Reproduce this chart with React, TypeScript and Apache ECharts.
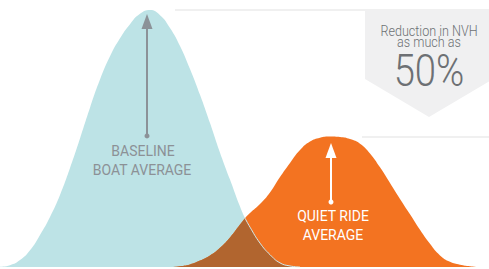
import { useEffect, useRef } from "react";
import * as echarts from "echarts";

// x positions along the noise axis (chart units = pixels across the plot)
const xs = [0, 10, 20, 30, 40, 50, 60, 70, 80, 90, 100, 110, 120, 130, 140, 150, 160, 170, 180, 190, 200, 210, 220, 230, 240, 245, 250, 260, 270, 280, 290, 300, 310, 320, 330, 340, 350, 360, 370, 380, 390, 400, 410, 420, 430, 440, 450, 460, 470, 480, 489];

// Baseline boat distribution (relative height, peak = 100)
const baselineBoat = [0.1, 0.7, 2.7, 6.5, 12.5, 19.5, 28, 38.5, 50, 62, 73, 82, 89, 94.5, 98.5, 100, 98, 93, 86, 77, 67, 56, 44.5, 34, 23.5, 19, 15.5, 9.3, 4.8, 1.6, 0.4, 0, 0, 0, 0, 0, 0, 0, 0, 0, 0, 0, 0, 0, 0, 0, 0, 0, 0, 0, 0];

// Quiet ride distribution
const quietRide = [0, 0, 0, 0, 0, 0, 0, 0, 0, 0, 0, 0, 0, 0, 0, 0, 0, 0, 0.3, 1, 2.5, 4.5, 7.5, 11.5, 16.5, 19, 21, 24.5, 29, 35, 40.5, 45.5, 48.8, 50.3, 50.8, 50.6, 49.8, 48, 44.2, 38.8, 32.7, 26.5, 20.5, 14.5, 9, 4.5, 2, 0.9, 0.3, 0, 0];

// where the two curves cross
const crossX = 245;

// guide lines: [level, startX]
const topGuide = [100, 175];
const midGuide = [50.6, 362];

// arrows: [x, fromLevel, toLevel]
const baselineArrow = [147, 51, 95.5];
const quietArrow = [331, 25.3, 45.3];

const baselineLabel = ["BASELINE", "BOAT AVERAGE"];
const quietLabel = ["QUIET RIDE", "AVERAGE"];
const calloutLines = ["Reduction in NVH", "as much as"];
const calloutValue = "50%";

const TEAL = "#bde3e6";
const ORANGE = "#f37321";
const BROWN = "#b1652f";
const GUIDE = "#f0f0f0";

export default function App() {
  const ref = useRef<HTMLDivElement>(null);

  useEffect(() => {
    if (!ref.current) return;
    const chart = echarts.init(ref.current, undefined, { renderer: "svg" });

    const tealData = xs.map((x, i) => [x, baselineBoat[i]]);
    const orangeData = xs.map((x, i) => [x, quietRide[i]]);
    const brownLeft = xs
      .map((x, i) => [x, quietRide[i]])
      .filter((d) => d[0] >= 170 && d[0] <= crossX);
    const brownRight = xs
      .map((x, i) => [x, baselineBoat[i]])
      .filter((d) => d[0] >= crossX && d[0] <= 300);

    const guide = (lvl: number, x0: number) => [
      { coord: [x0, lvl], symbol: "none" },
      { coord: [489, lvl], symbol: "none" },
    ];
    const arrow = (a: number[]) => [
      { coord: [a[0], a[1]], symbol: "circle", symbolSize: 5 },
      { coord: [a[0], a[2]], symbol: "triangle", symbolSize: [11, 15] },
    ];
    const arrowSeries = (a: number[], color: string) => ({
      type: "line",
      data: [],
      silent: true,
      z: 6,
      markLine: {
        silent: true,
        label: { show: false },
        lineStyle: { color, width: 2, type: "solid" },
        itemStyle: { color },
        data: [arrow(a)],
      },
    });

    const textEl = (txt: string, x: number, y: number, size: number, color: string, weight: number, sx: number) => ({
      type: "text",
      x,
      y,
      scaleX: sx,
      z: 100,
      silent: true,
      style: {
        text: txt,
        x: 0,
        y: 0,
        fill: color,
        fontSize: size,
        fontFamily: "Roboto",
        fontWeight: weight,
        textAlign: "center",
        textVerticalAlign: "middle",
      },
    });

    chart.setOption({
      animation: false,
      grid: { left: 0, right: 0, top: 10, bottom: 2 },
      xAxis: { type: "value", min: 0, max: 489, show: false },
      yAxis: { type: "value", min: 0, max: 100, show: false },
      series: [
        {
          type: "line",
          data: tealData,
          smooth: 0.5,
          showSymbol: false,
          lineStyle: { width: 0 },
          areaStyle: { color: TEAL, opacity: 1 },
          silent: true,
          z: 2,
          markLine: {
            silent: true,
            label: { show: false },
            lineStyle: { color: GUIDE, width: 2, type: "solid" },
            data: [guide(topGuide[0], topGuide[1])],
          },
        },
        {
          type: "line",
          data: orangeData,
          smooth: 0.5,
          showSymbol: false,
          lineStyle: { width: 0 },
          areaStyle: { color: ORANGE, opacity: 1 },
          silent: true,
          z: 3,
          markLine: {
            silent: true,
            label: { show: false },
            lineStyle: { color: GUIDE, width: 2, type: "solid" },
            data: [guide(midGuide[0], midGuide[1])],
          },
        },
        {
          type: "line",
          data: brownLeft,
          smooth: 0.5,
          showSymbol: false,
          lineStyle: { width: 0 },
          areaStyle: { color: BROWN, opacity: 1 },
          silent: true,
          z: 4,
        },
        {
          type: "line",
          data: brownRight,
          smooth: 0.5,
          showSymbol: false,
          lineStyle: { width: 1, color: "#cfe9eb" },
          areaStyle: { color: BROWN, opacity: 1 },
          silent: true,
          z: 4,
        },
        arrowSeries(quietArrow, "#ffffff"),
        arrowSeries(baselineArrow, "#8c9298"),
      ],
      graphic: [
        {
          type: "polygon",
          z: 50,
          silent: true,
          shape: { points: [[365, 10], [493, 10], [493, 79], [429, 117], [365, 79]] },
          style: { fill: "#f0f0f1" },
        },
        textEl(calloutLines[0], 429, 31, 14, "#6d7074", 300, 0.9),
        textEl(calloutLines[1], 429, 42, 14, "#6d7074", 300, 0.9),
        textEl(calloutValue, 429, 70, 45, "#6d7074", 300, 0.85),
        textEl(baselineLabel[0], 143, 150.5, 14, "#8c9196", 400, 1),
        textEl(baselineLabel[1], 142, 169.5, 14, "#8c9196", 400, 1),
        textEl(quietLabel[0], 333, 215.5, 14, "#ffffff", 400, 1),
        textEl(quietLabel[1], 333, 234.5, 14, "#ffffff", 400, 1),
      ],
    });

    return () => chart.dispose();
  }, []);

  return (
    <div
      ref={ref}
      style={{ position: "fixed", left: 0, top: 0, width: 489, height: 269, background: "#ffffff" }}
    />
  );
}
